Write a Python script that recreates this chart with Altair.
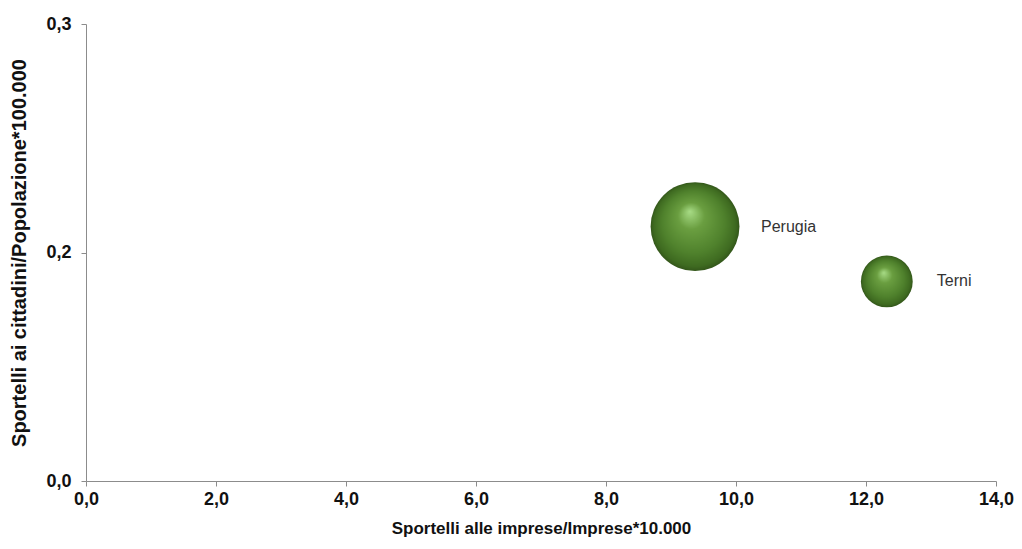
import altair as alt
import pandas as pd

province = ["Perugia", "Terni"]
imprese = [9.37, 12.32]          # Sportelli alle imprese/Imprese*10.000
cittadini = [0.167, 0.131]       # Sportelli ai cittadini/Popolazione*100.000
dimensione = [100, 34]           # bubble size
label_dx = [66, 50]

df = pd.DataFrame({
    "provincia": province,
    "imprese": imprese,
    "cittadini": cittadini,
    "dimensione": dimensione,
})

x_ticks = [0, 2, 4, 6, 8, 10, 12, 14]
y_ticks = [0, 0.15, 0.3]

FONT = "Liberation Sans"
axis_common = dict(
    grid=False,
    domainColor="#8c8c8c",
    tickColor="#8c8c8c",
    tickSize=5,
    labelFlush=False,
    labelFont=FONT,
    labelFontWeight="bold",
    labelFontSize=18,
    labelColor="#111111",
    titleFont=FONT,
    titleFontWeight="bold",
    titleColor="#111111",
    labelExpr="replace(format(datum.value + 0.000001, '.1f'), '.', ',')",
)

sphere = alt.RadialGradient(
    gradient="radial",
    x1=0.44, y1=0.33, r1=0.0,
    x2=0.5, y2=0.5, r2=0.5,
    stops=[
        alt.GradientStop(offset=0.0, color="#a8dc86"),
        alt.GradientStop(offset=0.3, color="#6a9e40"),
        alt.GradientStop(offset=0.7, color="#4f812c"),
        alt.GradientStop(offset=0.92, color="#3e6a20"),
        alt.GradientStop(offset=1.0, color="#33561a"),
    ],
)

x_enc = alt.X(
    "imprese:Q",
    scale=alt.Scale(domain=[0, 14], nice=False),
    axis=alt.Axis(values=x_ticks, title="Sportelli alle imprese/Imprese*10.000",
                  titleFontSize=17, labelPadding=4, titleY=47, titleBaseline="middle",
                  **axis_common),
)
y_enc = alt.Y(
    "cittadini:Q",
    scale=alt.Scale(domain=[0, 0.3], nice=False),
    axis=alt.Axis(values=y_ticks, title="Sportelli ai cittadini/Popolazione*100.000",
                  titleFontSize=20, labelPadding=10, titleX=-67, titleBaseline="middle",
                  **axis_common),
)

bubbles = alt.Chart(df).mark_circle(opacity=1, fill=sphere, strokeWidth=0).encode(
    x=x_enc,
    y=y_enc,
    size=alt.Size("dimensione:Q", scale=alt.Scale(domain=[0, 100], range=[0, 7900]), legend=None),
)

labels = []
for name, dx in zip(province, label_dx):
    labels.append(
        alt.Chart(df).transform_filter(alt.datum.provincia == name).mark_text(
            align="left", baseline="middle", dx=dx, font=FONT,
            fontSize=16, color="#333333",
        ).encode(x="imprese:Q", y="cittadini:Q", text="provincia:N")
    )

chart = alt.layer(bubbles, *labels).properties(
    width=910,
    height=457,
    background="white",
    autosize=alt.AutoSizeParams(type="none"),
    padding={"left": 78, "top": 16, "right": 18, "bottom": 60},
).configure_view(stroke="transparent", strokeWidth=0)

chart.save("out.html", embed_options={"renderer": "svg", "actions": False})
